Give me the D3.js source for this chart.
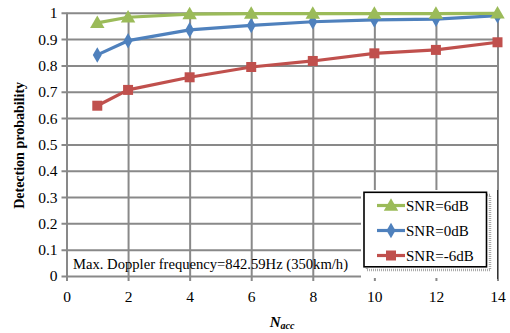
<!DOCTYPE html>
<html>
<head>
<meta charset="utf-8">
<script src="https://cdn.jsdelivr.net/npm/d3@7"></script>
<style>
  html, body { margin: 0; padding: 0; background: #fff; }
</style>
</head>
<body>
<svg id="chart" width="510" height="333"></svg>
<script>
// Accumulation counts on the x axis
const nacc = [1, 2, 4, 6, 8, 10, 12, 14];
// Detection probability per SNR level
const snr6 = [0.962, 0.983, 0.995, 0.997, 0.997, 0.997, 0.997, 0.998];
const snr0 = [0.840, 0.894, 0.935, 0.952, 0.966, 0.973, 0.976, 0.989];
const snrM6 = [0.647, 0.707, 0.755, 0.794, 0.817, 0.846, 0.859, 0.888];
const seriesNames = ["SNR=6dB", "SNR=0dB", "SNR=-6dB"];
const xTicks = [0, 2, 4, 6, 8, 10, 12, 14];
const yTicks = [0, 0.1, 0.2, 0.3, 0.4, 0.5, 0.6, 0.7, 0.8, 0.9, 1];

const series = [
  { name: seriesNames[0], values: snr6, color: "#9BBB59", marker: "triangle" },
  { name: seriesNames[1], values: snr0, color: "#4F81BD", marker: "diamond" },
  { name: seriesNames[2], values: snrM6, color: "#C0504D", marker: "square" }
];

const FONT = "'Liberation Serif', 'Times New Roman', serif";
const svg = d3.select("#chart");
const x = d3.scaleLinear().domain([0, 14]).range([66.5, 497.5]);
const y = d3.scaleLinear().domain([0, 1]).range([276, 12.8]);

const gridColor = "#898989";

// Horizontal gridlines with left tick stubs
const yAxis = d3.axisLeft(y).tickValues(yTicks)
  .tickSize(0).tickPadding(9)
  .tickFormat(d => d === 0 ? "0" : d === 1 ? "1" : d3.format(".1f")(d));
const gy = svg.append("g").attr("transform", `translate(${x(0)},0)`).call(yAxis);
gy.select(".domain").remove();
gy.selectAll(".tick line").attr("x1", -5).attr("x2", x(14) - x(0))
  .attr("stroke", gridColor).attr("stroke-width", 2);
gy.selectAll(".tick text").style("font-size", "15.5px").attr("fill", "#000");

// Vertical gridlines with bottom tick stubs
const xAxis = d3.axisBottom(x).tickValues(xTicks).tickSize(0).tickPadding(15);
const gx = svg.append("g").attr("transform", `translate(0,${y(0)})`).call(xAxis);
gx.select(".domain").remove();
gx.selectAll(".tick line").attr("y1", 5).attr("y2", y(1) - y(0))
  .attr("stroke", gridColor).attr("stroke-width", 2);
gx.selectAll(".tick text").style("font-size", "15.5px").attr("fill", "#000");

// Axis titles
svg.append("text")
  .attr("transform", `translate(24,${(y(0) + y(1)) / 2 + 1}) rotate(-90)`)
  .attr("text-anchor", "middle").style("font-size", "14px").attr("font-weight", "bold")
  .text("Detection probability");

const xt = svg.append("text")
  .attr("x", x(7)).attr("y", 327).attr("text-anchor", "middle")
  .style("font-size", "15px").attr("font-weight", "bold").attr("font-style", "italic");
xt.append("tspan").text("N");
xt.append("tspan").style("font-size", "10px").attr("dy", 2).text("acc");

// Annotation
const note = svg.append("text").attr("x", 73).attr("y", 268.5).style("font-size", "14px")
  .text("Max. Doppler frequency=842.59Hz (350km/h)");

// Series lines and markers
const line = d3.line().x((d, i) => x(nacc[i])).y(d => y(d));
const symbolFor = { triangle: d3.symbolTriangle, diamond: d3.symbolDiamond, square: d3.symbolSquare };
const sizeFor = { triangle: 90, diamond: 70, square: 100 };

function drawMarker(g, s, cx, cy) {
  const sym = d3.symbol().type(symbolFor[s.marker]).size(sizeFor[s.marker]);
  g.append("path").attr("d", sym())
    .attr("transform", `translate(${cx},${cy + (s.marker === "triangle" ? 1 : 0)})`)
    .attr("fill", s.color);
}

series.slice().reverse().forEach(s => {
  const g = svg.append("g");
  g.append("path").datum(s.values).attr("d", line)
    .attr("fill", "none").attr("stroke", s.color).attr("stroke-width", 3.2)
    .attr("stroke-linejoin", "round");
  s.values.forEach((v, i) => drawMarker(g, s, x(nacc[i]), y(v)));
});

// Legend with drop shadow
const lg = svg.append("g");
lg.append("rect").attr("x", 361).attr("y", 190).attr("width", 136).attr("height", 88).attr("fill", "#fff");
lg.append("line").attr("x1", 497.5).attr("x2", 497.5).attr("y1", 190).attr("y2", 279)
  .attr("stroke", "#333").attr("stroke-width", 1);
lg.append("rect").attr("x", 367).attr("y", 195).attr("width", 123).attr("height", 75)
  .attr("fill", "none").attr("stroke", "#aaa").attr("stroke-width", 2.5).attr("stroke-dasharray", "1 1");
lg.append("rect").attr("x", 364).attr("y", 192.3).attr("width", 122.5).attr("height", 74.5)
  .attr("fill", "#fff").attr("stroke", "#000").attr("stroke-width", 1.6);

series.forEach((s, i) => {
  const cy = 205.5 + i * 25;
  lg.append("line").attr("x1", 377).attr("x2", 405).attr("y1", cy).attr("y2", cy)
    .attr("stroke", s.color).attr("stroke-width", 3.2);
  drawMarker(lg, s, 391, cy);
  lg.append("text").attr("x", 406).attr("y", cy + 5).style("font-size", "15px").text(s.name);
});

// Serif face on every label
svg.selectAll("text").style("font-family", FONT);
svg.selectAll("g").attr("font-family", null);

// Stretch the annotation to its printed width
const noteLen = note.node().getComputedTextLength();
if (Math.abs(noteLen - 275) > 3) note.attr("textLength", 275).attr("lengthAdjust", "spacingAndGlyphs");
</script>
</body>
</html>
